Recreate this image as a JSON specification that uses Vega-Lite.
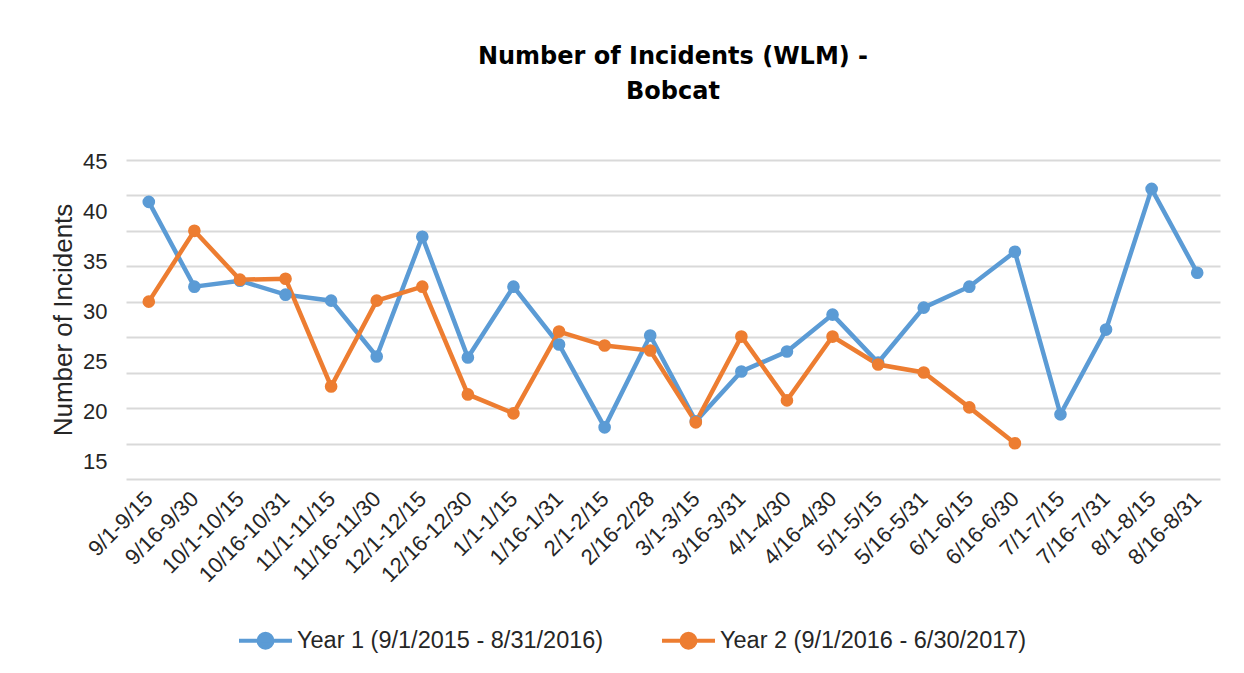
{
  "$schema": "https://vega.github.io/schema/vega-lite/v6.json",
  "width": 1094,
  "height": 319,
  "autosize": {"type": "none"},
  "padding": {"left": 126, "top": 160, "right": 24, "bottom": 194},
  "background": "white",
  "title": {
    "text": ["Number of Incidents (WLM) -", "Bobcat"],
    "font": "DejaVu Sans",
    "fontWeight": "bold",
    "fontSize": 24,
    "color": "#000000",
    "anchor": "middle",
    "lineHeight": 35,
    "offset": 47
  },
  "data": {
    "values": [
      {"period": "9/1-9/15", "series": "Year 1 (9/1/2015 - 8/31/2016)", "count": 41.0},
      {"period": "9/16-9/30", "series": "Year 1 (9/1/2015 - 8/31/2016)", "count": 32.5},
      {"period": "10/1-10/15", "series": "Year 1 (9/1/2015 - 8/31/2016)", "count": 33.1},
      {"period": "10/16-10/31", "series": "Year 1 (9/1/2015 - 8/31/2016)", "count": 31.7},
      {"period": "11/1-11/15", "series": "Year 1 (9/1/2015 - 8/31/2016)", "count": 31.1},
      {"period": "11/16-11/30", "series": "Year 1 (9/1/2015 - 8/31/2016)", "count": 25.5},
      {"period": "12/1-12/15", "series": "Year 1 (9/1/2015 - 8/31/2016)", "count": 37.5},
      {"period": "12/16-12/30", "series": "Year 1 (9/1/2015 - 8/31/2016)", "count": 25.4},
      {"period": "1/1-1/15", "series": "Year 1 (9/1/2015 - 8/31/2016)", "count": 32.5},
      {"period": "1/16-1/31", "series": "Year 1 (9/1/2015 - 8/31/2016)", "count": 26.7},
      {"period": "2/1-2/15", "series": "Year 1 (9/1/2015 - 8/31/2016)", "count": 18.4},
      {"period": "2/16-2/28", "series": "Year 1 (9/1/2015 - 8/31/2016)", "count": 27.6},
      {"period": "3/1-3/15", "series": "Year 1 (9/1/2015 - 8/31/2016)", "count": 19.0},
      {"period": "3/16-3/31", "series": "Year 1 (9/1/2015 - 8/31/2016)", "count": 24.0},
      {"period": "4/1-4/30", "series": "Year 1 (9/1/2015 - 8/31/2016)", "count": 26.0},
      {"period": "4/16-4/30", "series": "Year 1 (9/1/2015 - 8/31/2016)", "count": 29.7},
      {"period": "5/1-5/15", "series": "Year 1 (9/1/2015 - 8/31/2016)", "count": 24.9},
      {"period": "5/16-5/31", "series": "Year 1 (9/1/2015 - 8/31/2016)", "count": 30.4},
      {"period": "6/1-6/15", "series": "Year 1 (9/1/2015 - 8/31/2016)", "count": 32.5},
      {"period": "6/16-6/30", "series": "Year 1 (9/1/2015 - 8/31/2016)", "count": 36.0},
      {"period": "7/1-7/15", "series": "Year 1 (9/1/2015 - 8/31/2016)", "count": 19.7},
      {"period": "7/16-7/31", "series": "Year 1 (9/1/2015 - 8/31/2016)", "count": 28.2},
      {"period": "8/1-8/15", "series": "Year 1 (9/1/2015 - 8/31/2016)", "count": 42.3},
      {"period": "8/16-8/31", "series": "Year 1 (9/1/2015 - 8/31/2016)", "count": 33.9},
      {"period": "9/1-9/15", "series": "Year 2 (9/1/2016 - 6/30/2017)", "count": 31.0},
      {"period": "9/16-9/30", "series": "Year 2 (9/1/2016 - 6/30/2017)", "count": 38.1},
      {"period": "10/1-10/15", "series": "Year 2 (9/1/2016 - 6/30/2017)", "count": 33.2},
      {"period": "10/16-10/31", "series": "Year 2 (9/1/2016 - 6/30/2017)", "count": 33.3},
      {"period": "11/1-11/15", "series": "Year 2 (9/1/2016 - 6/30/2017)", "count": 22.5},
      {"period": "11/16-11/30", "series": "Year 2 (9/1/2016 - 6/30/2017)", "count": 31.1},
      {"period": "12/1-12/15", "series": "Year 2 (9/1/2016 - 6/30/2017)", "count": 32.5},
      {"period": "12/16-12/30", "series": "Year 2 (9/1/2016 - 6/30/2017)", "count": 21.7},
      {"period": "1/1-1/15", "series": "Year 2 (9/1/2016 - 6/30/2017)", "count": 19.8},
      {"period": "1/16-1/31", "series": "Year 2 (9/1/2016 - 6/30/2017)", "count": 28.0},
      {"period": "2/1-2/15", "series": "Year 2 (9/1/2016 - 6/30/2017)", "count": 26.6},
      {"period": "2/16-2/28", "series": "Year 2 (9/1/2016 - 6/30/2017)", "count": 26.1},
      {"period": "3/1-3/15", "series": "Year 2 (9/1/2016 - 6/30/2017)", "count": 18.9},
      {"period": "3/16-3/31", "series": "Year 2 (9/1/2016 - 6/30/2017)", "count": 27.5},
      {"period": "4/1-4/30", "series": "Year 2 (9/1/2016 - 6/30/2017)", "count": 21.1},
      {"period": "4/16-4/30", "series": "Year 2 (9/1/2016 - 6/30/2017)", "count": 27.5},
      {"period": "5/1-5/15", "series": "Year 2 (9/1/2016 - 6/30/2017)", "count": 24.7},
      {"period": "5/16-5/31", "series": "Year 2 (9/1/2016 - 6/30/2017)", "count": 23.9},
      {"period": "6/1-6/15", "series": "Year 2 (9/1/2016 - 6/30/2017)", "count": 20.4},
      {"period": "6/16-6/30", "series": "Year 2 (9/1/2016 - 6/30/2017)", "count": 16.8}
    ]
  },
  "encoding": {
    "x": {
      "field": "period",
      "type": "nominal",
      "sort": null,
      "scale": {"type": "point", "padding": 0.5},
      "axis": {
        "title": null,
        "labelAngle": -45,
        "labelAlign": "right",
        "labelBaseline": "middle",
        "labelFont": "Liberation Sans",
        "labelFontSize": 22,
        "labelColor": "#262626",
        "labelPadding": 16,
        "labelOverlap": false,
        "labelLimit": 0,
        "ticks": false,
        "grid": false,
        "domain": true,
        "domainColor": "#d9d9d9",
        "domainWidth": 2
      }
    },
    "color": {
      "field": "series",
      "type": "nominal",
      "scale": {"range": ["#5b9bd5", "#ed7d31"]},
      "legend": {
        "title": null,
        "orient": "none",
        "legendX": 111,
        "legendY": 452,
        "direction": "horizontal",
        "labelFont": "Liberation Sans",
        "labelFontSize": 23.5,
        "labelColor": "#262626",
        "labelOffset": 3,
        "labelLimit": 0,
        "columnPadding": 50,
        "symbolType": "M-1,0L1,0M-0.264,0A0.264,0.264,0,1,1,0.264,0A0.264,0.264,0,1,1,-0.264,0Z",
        "symbolSize": 2809,
        "symbolStrokeWidth": 4,
        "encode": {
          "symbols": {
            "update": {
              "stroke": {"scale": "color", "field": "value"},
              "fill": {"scale": "color", "field": "value"},
              "strokeWidth": {"value": 4},
              "opacity": {"value": 1}
            }
          }
        }
      }
    }
  },
  "layer": [
    {
      "mark": {"type": "line", "strokeWidth": 4.5},
      "encoding": {
        "y": {
          "field": "count",
          "type": "quantitative",
          "scale": {"domain": [13.22, 45.2], "nice": false, "zero": false},
          "axis": {
            "orient": "left",
            "title": null,
            "values": [45.2, 41.65, 38.09, 34.54, 30.99, 27.43, 23.88, 20.33, 16.77],
            "labels": false,
            "ticks": false,
            "domain": false,
            "grid": true,
            "gridColor": "#d9d9d9",
            "gridWidth": 2
          }
        }
      }
    },
    {
      "mark": {"type": "point", "filled": true, "size": 160, "opacity": 1},
      "encoding": {
        "y": {
          "field": "count",
          "type": "quantitative",
          "axis": {
            "orient": "left",
            "title": "Number of Incidents",
            "titleFont": "Liberation Sans",
            "titleFontSize": 26,
            "titleFontWeight": "normal",
            "titleColor": "#262626",
            "titlePadding": 6,
            "values": [15, 20, 25, 30, 35, 40, 45],
            "labelFont": "Liberation Sans",
            "labelFontSize": 22,
            "labelColor": "#262626",
            "labelPadding": 19,
            "ticks": false,
            "domain": false,
            "grid": false
          }
        }
      }
    }
  ],
  "resolve": {"scale": {"y": "shared"}, "axis": {"y": "independent"}},
  "config": {
    "view": {"stroke": null}
  }
}
